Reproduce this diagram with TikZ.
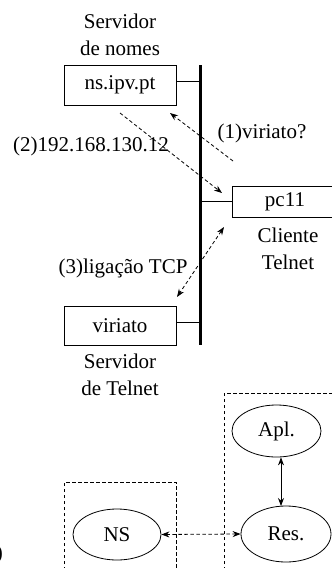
\documentclass[tikz,border=0pt]{standalone}
\usepackage{fontspec}
\setmainfont{Liberation Serif}
\usetikzlibrary{shapes.geometric,arrows.meta}
\begin{document}
\begin{tikzpicture}[x=1pt,y=-1pt,
  every node/.style={font=\fontsize{21}{27}\selectfont, inner sep=0pt},
  host/.style={draw, line width=0.8pt},
  caption/.style={align=center},
  proc/.style={draw, ellipse, line width=0.8pt},
  msg/.style={dashed, dash pattern=on 3.5pt off 2.5pt, line width=0.8pt},
  tip/.style={-{Stealth[length=8pt,width=6pt]}},
  bitip/.style={{Stealth[length=8pt,width=6pt]}-{Stealth[length=8pt,width=6pt]}},
  box/.style={dashed, dash pattern=on 3.5pt off 2.5pt, line width=0.8pt}]
\useasboundingbox (0,0) rectangle (332,568);

% network bus
\coordinate (bt) at (200.5,65);
\coordinate (bb) at (200.5,345);
\draw[line width=3pt] (bt) -- (bb);

% hosts
\node[host, minimum width=112pt, minimum height=40pt] (ns) at (120,85) {ns.ipv.pt};
\node[host, minimum width=112pt, minimum height=39pt] (vir) at (120,325.5) {viriato};
\node[host, minimum width=106pt, minimum height=31pt] (pc) at (285,201.5) {pc11};

\draw[line width=0.8pt] ([yshift=4pt]ns.east) -- ([yshift=4pt]ns.east -| bt);
\draw[line width=0.8pt] ([yshift=3.5pt]vir.east) -- ([yshift=3.5pt]vir.east -| bt);
\draw[line width=0.8pt] (pc.west) -- (pc.west -| bt);

% captions
\node[caption] (cns) at (120,35) {Servidor\\de nomes};
\node[caption] (cpc) at (288,249) {Cliente\\Telnet};
\node[caption] (cvir) at (120,375) {Servidor\\de Telnet};

% message exchange
\coordinate (q1) at (233,161);
\coordinate (q2) at (170,113);
\draw[msg, tip] (q1) -- (q2);
\node (l1) at (262,133) {(1)viriato?};

\coordinate (r1) at (120,113);
\coordinate (r2) at (222,193);
\draw[msg, tip] (r1) -- (r2);
\node (l2) at (91,146) {(2)192.168.130.12};

\coordinate (t1) at (224,227);
\coordinate (t2) at (177,297);
\draw[msg, bitip] (t1) -- (t2);
\node (l3) at (123,268) {(3)ligação TCP};

% process view
\draw[box] (224,600) -- (224,393) -- (345,393);
\draw[box] (64,600) -- (64,482) -- (176,482) -- (176,600);

\node[proc, minimum width=89pt, minimum height=52pt] (apl) at (276.5,431) {Apl.};
\node[proc, minimum width=90pt, minimum height=56pt] (res) at (286,534) {Res.};
\node[proc, minimum width=88pt, minimum height=51pt] (nsp) at (117,534.5) {NS};

\draw[line width=0.8pt, bitip] (apl.south -| 281,0) -- (281,506);
\draw[msg, bitip] (nsp.east) -- (res.west);

% part label at the margin
\node[anchor=east] (lbl) at (3,554) {)};
\end{tikzpicture}
\end{document}
